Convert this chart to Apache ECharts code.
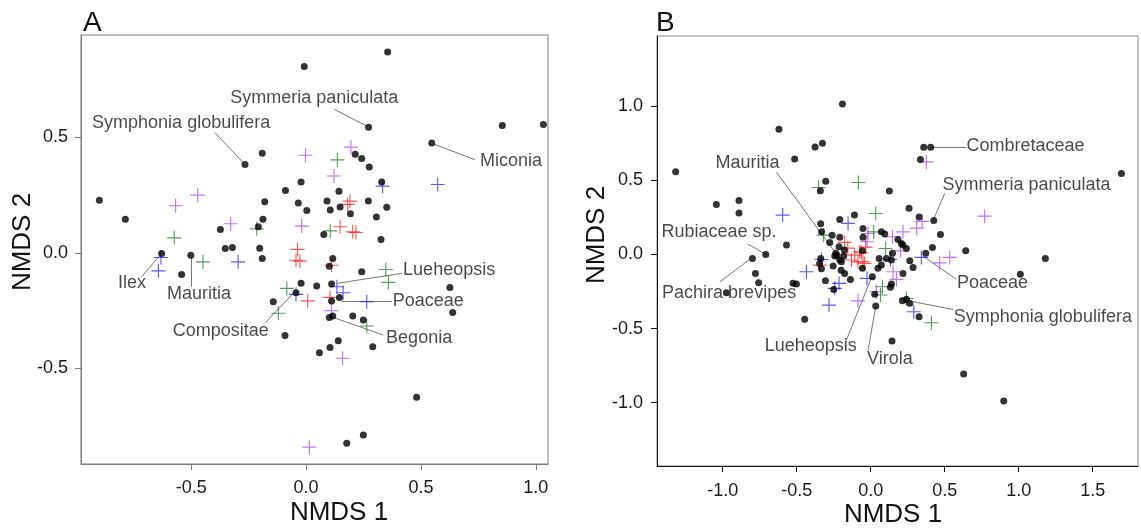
<!DOCTYPE html>
<html><head><meta charset="utf-8">
<script src="https://cdn.jsdelivr.net/npm/echarts@6/dist/echarts.min.js"></script>
<style>html,body{margin:0;padding:0;background:#fff}#c{width:1141px;height:531px}</style>
</head><body><div id="c"></div>
<script>
// ---------- Panel A data (NMDS 1, NMDS 2) ----------
const aBlack = [[-0.266,0.383],[-0.191,0.432],[-0.900,0.228],[-0.787,0.146],[-0.090,0.270],[-0.022,0.307],[-0.180,0.221],[-0.188,0.146],[-0.373,0.101],[-0.208,0.113],[-0.352,0.019],[-0.321,0.023],[-0.202,0.020],[-0.629,-0.003],[-0.542,-0.094],[-0.502,-0.010],[-0.191,-0.024],[-0.143,-0.212],[-0.092,-0.358],[-0.044,-0.173],[-0.022,-0.132],[0.116,-0.024],[0.101,-0.058],[0.242,-0.082],[0.046,-0.144],[0.111,-0.135],[0.111,-0.209],[0.145,-0.193],[0.101,-0.280],[0.116,-0.274],[0.203,-0.274],[0.249,-0.291],[0.290,-0.407],[0.140,-0.381],[0.104,-0.410],[0.058,-0.433],[0.626,-0.150],[0.638,-0.258],[0.481,-0.626],[0.249,-0.789],[0.177,-0.825],[0.326,0.058],[0.355,0.870],[-0.008,0.807],[0.272,0.544],[0.547,0.476],[0.854,0.552],[1.033,0.556],[0.329,0.307],[0.214,0.427],[0.242,0.409],[0.275,0.372],[0.143,0.267],[-0.034,0.216],[0.003,0.183],[0.091,0.225],[0.105,0.186],[0.148,0.199],[0.193,0.169],[0.271,0.225],[0.351,0.198],[0.306,0.155],[0.077,0.080]];
const aPurple = [[-0.568,0.204],[-0.472,0.250],[-0.328,0.126],[-0.003,0.423],[0.195,0.458],[0.121,0.333],[-0.019,0.116],[0.111,-0.251],[0.159,-0.457],[0.014,-0.842]];
const aGreen = [[-0.215,0.104],[-0.574,0.065],[-0.449,-0.039],[0.136,0.403],[0.105,0.095],[-0.084,-0.154],[-0.121,-0.262],[0.347,-0.072],[0.358,-0.128],[0.264,-0.317]];
const aBlue = [[-0.632,-0.020],[-0.643,-0.078],[-0.296,-0.039],[0.573,0.296],[0.333,0.289],[0.134,-0.147],[0.161,-0.173],[-0.044,-0.180],[0.264,-0.212]];
const aRed = [[0.191,0.224],[0.181,0.210],[0.148,0.113],[0.203,0.091],[0.217,0.088],[-0.037,0.015],[-0.044,-0.032],[-0.027,-0.036],[0.111,-0.054],[0.007,-0.208],[0.104,-0.193]];
const aLabelNames = ['Symphonia globulifera','Symmeria paniculata','Miconia','Ilex','Mauritia','Compositae','Lueheopsis','Poaceae','Begonia'];
const aLabelAt = [[-0.932,0.561],[-0.331,0.670],[0.757,0.397],[-0.819,-0.132],[-0.606,-0.180],[-0.581,-0.339],[0.422,-0.075],[0.377,-0.209],[0.348,-0.371]];
const aLeaders = [[[-0.397,0.521],[-0.273,0.390]],[[0.123,0.622],[0.266,0.548]],[[0.557,0.471],[0.735,0.404]],[[-0.716,-0.104],[-0.636,-0.010]],[[-0.498,-0.019],[-0.498,-0.147]],[[-0.176,-0.301],[-0.056,-0.176]],[[0.416,-0.089],[0.136,-0.132]],[[0.373,-0.209],[0.155,-0.208]],[[0.336,-0.356],[0.118,-0.280]]];
const aXTicks = [-0.5, 0, 0.5, 1.0];
const aYTicks = [-0.5, 0, 0.5];

// ---------- Panel B data ----------
const bBlack = [[-0.191,1.015],[-0.620,0.844],[-0.376,0.725],[-0.326,0.750],[-0.514,0.644],[-1.318,0.557],[-0.304,0.494],[-0.340,0.429],[-1.043,0.337],[-0.890,0.364],[-0.890,0.280],[-0.110,0.265],[-0.209,0.236],[-0.338,0.206],[-0.332,0.152],[-0.261,0.130],[-0.277,0.081],[-0.209,0.115],[-0.052,0.175],[0.358,0.723],[0.405,0.723],[0.336,0.640],[1.694,0.546],[0.126,0.427],[0.259,0.312],[0.327,0.253],[0.426,0.229],[0.471,0.135],[0.072,0.152],[0.095,0.137],[-0.052,0.115],[0.184,0.101],[0.207,0.074],[0.241,0.040],[0.218,0.063],[0.147,0.007],[0.140,-0.038],[0.417,0.047],[0.372,0.007],[0.642,0.024],[0.264,-0.043],[0.286,-0.088],[0.072,-0.072],[0.049,-0.094],[0.106,-0.027],[0.011,-0.151],[0.140,-0.200],[0.133,-0.222],[0.027,-0.268],[0.034,-0.348],[0.214,-0.313],[0.241,-0.303],[0.264,-0.330],[0.327,-0.420],[-0.056,0.024],[1.180,-0.027],[1.011,-0.133],[0.628,-0.807],[0.899,-0.989],[0.144,-0.584],[0.218,-0.128],[-0.569,0.063],[-0.709,0.000],[-0.799,-0.027],[-0.779,-0.128],[-0.757,-0.191],[-0.975,-0.259],[-0.525,-0.195],[-0.502,-0.200],[-0.446,-0.438],[-0.345,-0.061],[-0.338,-0.027],[-0.333,-0.097],[-0.306,-0.178],[-0.254,-0.079],[-0.250,-0.236],[-0.228,-0.005],[-0.209,-0.038],[-0.178,0.029],[-0.182,-0.011],[-0.176,-0.129],[-0.137,-0.169],[-0.056,-0.094],[-0.214,0.051],[0.057,-0.027],[-0.243,-0.010],[-0.198,-0.050],[-0.200,-0.106],[-0.236,0.007]];
const bPurple = [[-0.018,0.141],[0.376,0.624],[0.770,0.258],[0.348,0.223],[0.311,0.177],[0.218,0.152],[0.147,0.119],[-0.025,0.085],[0.201,0.024],[0.534,-0.020],[0.466,-0.057],[0.151,-0.117],[0.174,-0.168],[0.038,-0.252],[-0.086,-0.313]];
const bGreen = [[-0.353,0.451],[-0.083,0.485],[0.034,0.276],[0.020,0.152],[-0.318,0.130],[0.101,0.040],[0.079,-0.218],[0.066,-0.274],[0.241,-0.297],[0.410,-0.461]];
const bBlue = [[-0.595,0.265],[-0.153,0.209],[-0.333,-0.034],[-0.434,-0.117],[-0.214,-0.195],[-0.243,-0.229],[-0.282,-0.342],[-0.025,-0.162],[0.133,-0.034],[0.342,-0.020],[0.291,-0.387]];
const bRed = [[-0.176,0.081],[-0.345,-0.072],[-0.108,-0.005],[-0.063,0.011],[-0.086,-0.050],[-0.041,-0.061],[-0.130,-0.038],[-0.155,0.042],[-0.034,0.049],[-0.074,0.018],[-0.052,-0.050]];
const bLabelNames = ['Combretaceae','Symmeria paniculata','Mauritia','Rubiaceae sp.','Pachira brevipes','Lueheopsis','Virola','Poaceae','Symphonia globulifera'];
const bLabelAt = [[0.647,0.732],[0.484,0.467],[-1.049,0.613],[-1.414,0.148],[-1.410,-0.263],[-0.716,-0.616],[-0.025,-0.708],[0.583,-0.191],[0.561,-0.420]];
const bLeaders = [[[0.410,0.723],[0.647,0.723]],[[0.500,0.411],[0.426,0.238]],[[-0.637,0.555],[-0.236,0.007]],[[-0.829,0.069],[-0.711,0.002]],[[-1.020,-0.185],[-0.818,-0.034]],[[-0.169,-0.589],[0.005,-0.156]],[[-0.018,-0.645],[0.034,-0.353]],[[0.579,-0.168],[0.353,-0.011]],[[0.556,-0.371],[0.286,-0.319]]];
const bXTicks = [-1.0, -0.5, 0, 0.5, 1.0, 1.5];
const bYTicks = [-1.0, -0.5, 0, 0.5, 1.0];

// ---------- styling / building ----------
const FONT = 'Liberation Sans, Arial, sans-serif';
const PLUS = 'path://M9.2,0H10.8V9.2H20V10.8H10.8V20H9.2V10.8H0V9.2H9.2Z';
const COLORS = {purple:'rgba(160,32,240,0.8)', green:'rgba(10,110,10,0.85)', blue:'rgba(0,0,255,0.82)', red:'rgba(255,0,0,0.82)'};

function axisPair(idx, xr, yr, xt, yt, leftCol, botCol, xMargin, yMargin){
  const lab = (m) => ({customValues: null, formatter: v => v.toFixed(1), fontSize: 18, color: '#1a1a1a', fontFamily: FONT, margin: m});
  const xl = lab(xMargin); xl.customValues = xt;
  const yl = lab(yMargin); yl.customValues = yt;
  return {
    x: {gridIndex: idx, type: 'value', min: xr[0], max: xr[1], splitLine: {show: false},
        axisLine: {show: true, onZero: false, lineStyle: {color: botCol, width: 1}},
        axisTick: {show: true, length: 6, customValues: xt, lineStyle: {color: botCol}},
        axisLabel: xl},
    y: {gridIndex: idx, type: 'value', min: yr[0], max: yr[1], splitLine: {show: false},
        axisLine: {show: true, onZero: false, lineStyle: {color: leftCol, width: 1}},
        axisTick: {show: true, length: 6, customValues: yt, lineStyle: {color: leftCol}},
        axisLabel: yl}
  };
}
const axA = axisPair(0, [-0.98, 1.053], [-0.915, 0.944], aXTicks, aYTicks, '#7a7a7a', '#7a7a7a', 15, 13);
const axB = axisPair(1, [-1.444, 1.806], [-1.427, 1.473], bXTicks, bYTicks, '#111', '#111', 16, 14);

function panelSeries(idx, black, purple, green, blue, red, names, at, leaders){
  const cross = (d, c) => ({type: 'scatter', xAxisIndex: idx, yAxisIndex: idx, data: d, symbol: PLUS, symbolSize: 14,
    itemStyle: {color: c}, z: 3, silent: true});
  return [
    {type: 'lines', coordinateSystem: 'cartesian2d', xAxisIndex: idx, yAxisIndex: idx, polyline: false,
      data: leaders.map(c => ({coords: c})), lineStyle: {color: '#777', width: 1, opacity: 1}, z: 2, silent: true},
    cross(purple, COLORS.purple), cross(green, COLORS.green), cross(blue, COLORS.blue), cross(red, COLORS.red),
    {type: 'scatter', xAxisIndex: idx, yAxisIndex: idx, data: black, symbol: 'circle', symbolSize: 7,
      itemStyle: {color: '#000'}, z: 4, silent: true},
    {type: 'scatter', xAxisIndex: idx, yAxisIndex: idx, data: at.map((p, i) => ({value: p, name: names[i]})),
      symbolSize: 0.1, itemStyle: {color: 'transparent'}, z: 5, silent: true,
      label: {show: true, position: 'right', distance: 0, formatter: '{b}', fontSize: 18, color: '#1a1a1a', fontFamily: FONT}}
  ];
}

const chart = echarts.init(document.getElementById('c'), null, {renderer: 'canvas'});
chart.setOption({
  animation: false,
  backgroundColor: '#fff',
  grid: [
    {left: 81, top: 35, width: 467, height: 429, show: true, borderColor: '#7a7a7a', borderWidth: 1, containLabel: false},
    {left: 657, top: 36, width: 481, height: 430, show: true, borderColor: '#8a8a8a', borderWidth: 1, containLabel: false}
  ],
  xAxis: [axA.x, axB.x],
  yAxis: [axA.y, axB.y],
  series: [].concat(
    panelSeries(0, aBlack, aPurple, aGreen, aBlue, aRed, aLabelNames, aLabelAt, aLeaders),
    panelSeries(1, bBlack, bPurple, bGreen, bBlue, bRed, bLabelNames, bLabelAt, bLeaders)
  ),
  graphic: [
    {type: 'text', left: 83, top: 9, style: {text: 'A', font: '28px ' + FONT, fill: '#111'}},
    {type: 'text', left: 656, top: 9, style: {text: 'B', font: '28px ' + FONT, fill: '#111'}},
    {type: 'text', x: 339, y: 513, style: {text: 'NMDS 1', font: '26px ' + FONT, fill: '#111', align: 'center', verticalAlign: 'middle'}},
    {type: 'text', x: 893, y: 515, style: {text: 'NMDS 1', font: '26px ' + FONT, fill: '#111', align: 'center', verticalAlign: 'middle'}},
    {type: 'text', x: 23, y: 242, rotation: Math.PI / 2, style: {text: 'NMDS 2', font: '26px ' + FONT, fill: '#111', align: 'center', verticalAlign: 'middle'}},
    {type: 'text', x: 597, y: 235, rotation: Math.PI / 2, style: {text: 'NMDS 2', font: '26px ' + FONT, fill: '#111', align: 'center', verticalAlign: 'middle'}}
  ]
});
</script></body></html>
